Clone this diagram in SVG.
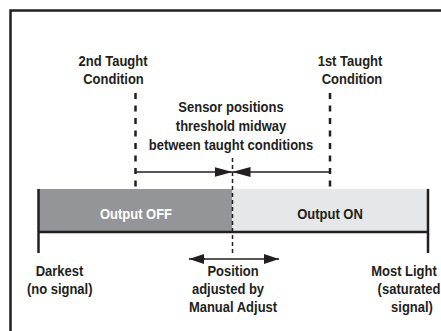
<svg xmlns="http://www.w3.org/2000/svg" width="441" height="331" viewBox="0 0 441 331">
<defs>
<style>
.t{font-family:"Liberation Sans",Arial,sans-serif;font-weight:bold;font-size:15px;fill:#231f20;text-anchor:middle}
.w{fill:#ffffff}
.ln{stroke:#231f20;fill:none}
</style>
<marker id="ah" viewBox="0 0 18 10" refX="18" refY="5" markerWidth="18" markerHeight="10" markerUnits="userSpaceOnUse" orient="auto">
<path d="M0,0 L18,5 L0,10 Z" fill="#231f20"/>
</marker>
<marker id="ah2" viewBox="0 0 15 10" refX="15" refY="5" markerWidth="15" markerHeight="10" markerUnits="userSpaceOnUse" orient="auto">
<path d="M0,0 L15,5 L0,10 Z" fill="#231f20"/>
</marker>
</defs>
<rect width="441" height="331" fill="#ffffff"/>
<g id="frame">
<path class="ln" d="M10.5,331 V10.5 H441" stroke-width="2.5"/>
</g>
<g id="bar">
<rect x="38" y="189" width="194" height="43" fill="#939598"/>
<rect x="232" y="189" width="195" height="43" fill="#e6e7e8"/>
<path class="ln" d="M38,232 H428" stroke-width="2.5"/>
<path class="ln" d="M38.5,189 V253" stroke-width="2.5"/>
<path class="ln" d="M428,189 V253" stroke-width="2.5"/>
<text class="t w" transform="matrix(0.867 0 0 1 136 219)">Output OFF</text>
<text class="t" transform="matrix(0.867 0 0 1 330 219)">Output ON</text>
</g>
<g id="second-taught">
<text class="t" transform="matrix(0.867 0 0 1 113 66)">2nd Taught</text>
<text class="t" transform="matrix(0.867 0 0 1 113.5 84)">Condition</text>
</g>
<g id="first-taught">
<text class="t" transform="matrix(0.867 0 0 1 350 66)">1st Taught</text>
<text class="t" transform="matrix(0.867 0 0 1 352 84)">Condition</text>
</g>
<g id="threshold-label">
<text class="t" transform="matrix(0.867 0 0 1 231 112)">Sensor positions</text>
<text class="t" transform="matrix(0.867 0 0 1 231 131)">threshold midway</text>
<text class="t" transform="matrix(0.867 0 0 1 231 150)">between taught conditions</text>
</g>
<g id="darkest">
<text class="t" transform="matrix(0.867 0 0 1 59.5 276)">Darkest</text>
<text class="t" transform="matrix(0.867 0 0 1 59.7 294)">(no signal)</text>
</g>
<g id="most-light">
<text class="t" transform="matrix(0.867 0 0 1 404 276)">Most Light</text>
<text class="t" transform="matrix(0.867 0 0 1 409 294)">(saturated</text>
<text class="t" transform="matrix(0.867 0 0 1 412 312)">signal)</text>
</g>
<g id="position">
<text class="t" transform="matrix(0.867 0 0 1 233 276)">Position</text>
<text class="t" transform="matrix(0.867 0 0 1 228 294)">adjusted by</text>
<text class="t" transform="matrix(0.867 0 0 1 233 312)">Manual Adjust</text>
</g>
<g id="connectors">
<path class="ln" d="M135.5,93 V189" stroke-width="2.5" stroke-dasharray="6,6.5"/>
<path class="ln" d="M330,93 V189" stroke-width="2.5" stroke-dasharray="6,6.5"/>
<path class="ln" d="M232.5,158 V256" stroke-width="1.5" stroke-dasharray="4,3"/>
<path class="ln" d="M135,172 H232.5" stroke-width="1.5" marker-end="url(#ah)"/>
<path class="ln" d="M330,172 H232.5" stroke-width="1.5" marker-end="url(#ah)"/>
<path class="ln" d="M205,259 H189" stroke-width="1.5" marker-end="url(#ah2)"/>
<path class="ln" d="M200,259 H279" stroke-width="1.5" marker-end="url(#ah2)"/>
</g>
</svg>
